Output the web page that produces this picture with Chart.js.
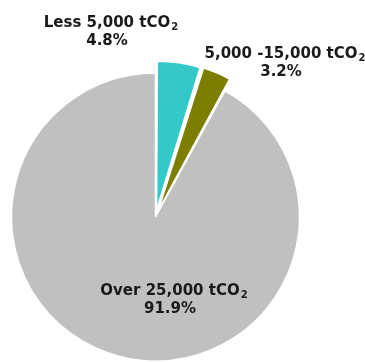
<!DOCTYPE html>
<html>
<head>
<meta charset="utf-8">
<script src="https://cdn.jsdelivr.net/npm/chart.js@4"></script>
<style>
  html, body { margin: 0; padding: 0; background: #fff; }
  #wrap { width: 365px; height: 363px; }
</style>
</head>
<body>
<div id="wrap"><canvas id="myChart" width="365" height="363"></canvas></div>
<script>
// Phân bố theo mức phát thải
const categories = ['Less 5,000 tCO', '5,000 -15,000 tCO', 'Over 25,000 tCO'];
const shares = [4.8, 3.2, 91.9];
const sliceColors = ['#33c9c9', '#7d7d00', '#c0c0c0'];
const sliceOffsets = [28, 28, 0];

// Vị trí nhãn (tâm dòng chữ, đường cơ sở dòng 1)
const labelAnchors = [
    { x: 107, y: 27 },
    { x: 281, y: 58 },
    { x: 170, y: 295 }
];

// Vẽ nhãn với chữ số 2 viết dưới (tCO₂)
const sliceLabels = {
    id: 'sliceLabels',
    afterDraw(chart) {
        const ctx = chart.ctx;
        ctx.save();
        ctx.fillStyle = '#1a1a1a';
        ctx.textBaseline = 'alphabetic';
        categories.forEach((name, i) => {
            const a = labelAnchors[i];
            ctx.font = "bold 15px 'DejaVu Sans', Verdana, sans-serif";
            const w = ctx.measureText(name).width;
            ctx.textAlign = 'left';
            ctx.fillText(name, a.x - w / 2, a.y);
            ctx.font = "bold 10px 'DejaVu Sans', Verdana, sans-serif";
            ctx.fillText('2', a.x + w / 2 + 1, a.y + 3);
            ctx.font = "bold 15px 'DejaVu Sans', Verdana, sans-serif";
            ctx.textAlign = 'center';
            ctx.fillText(shares[i].toFixed(1) + '%', a.x, a.y + 18);
        });
        ctx.restore();
    }
};

const ctx = document.getElementById('myChart').getContext('2d');
new Chart(ctx, {
    type: 'pie',
    data: {
        labels: categories,
        datasets: [{
            data: shares,
            backgroundColor: sliceColors,
            borderColor: '#ffffff',
            borderWidth: 1.5,
            offset: sliceOffsets
        }]
    },
    options: {
        responsive: false,
        animation: false,
        radius: 144,
        layout: { padding: { left: 0, right: 54, top: 71, bottom: 0 } },
        plugins: {
            legend: { display: false },
            tooltip: { enabled: false }
        }
    },
    plugins: [sliceLabels]
});
</script>
</body>
</html>
